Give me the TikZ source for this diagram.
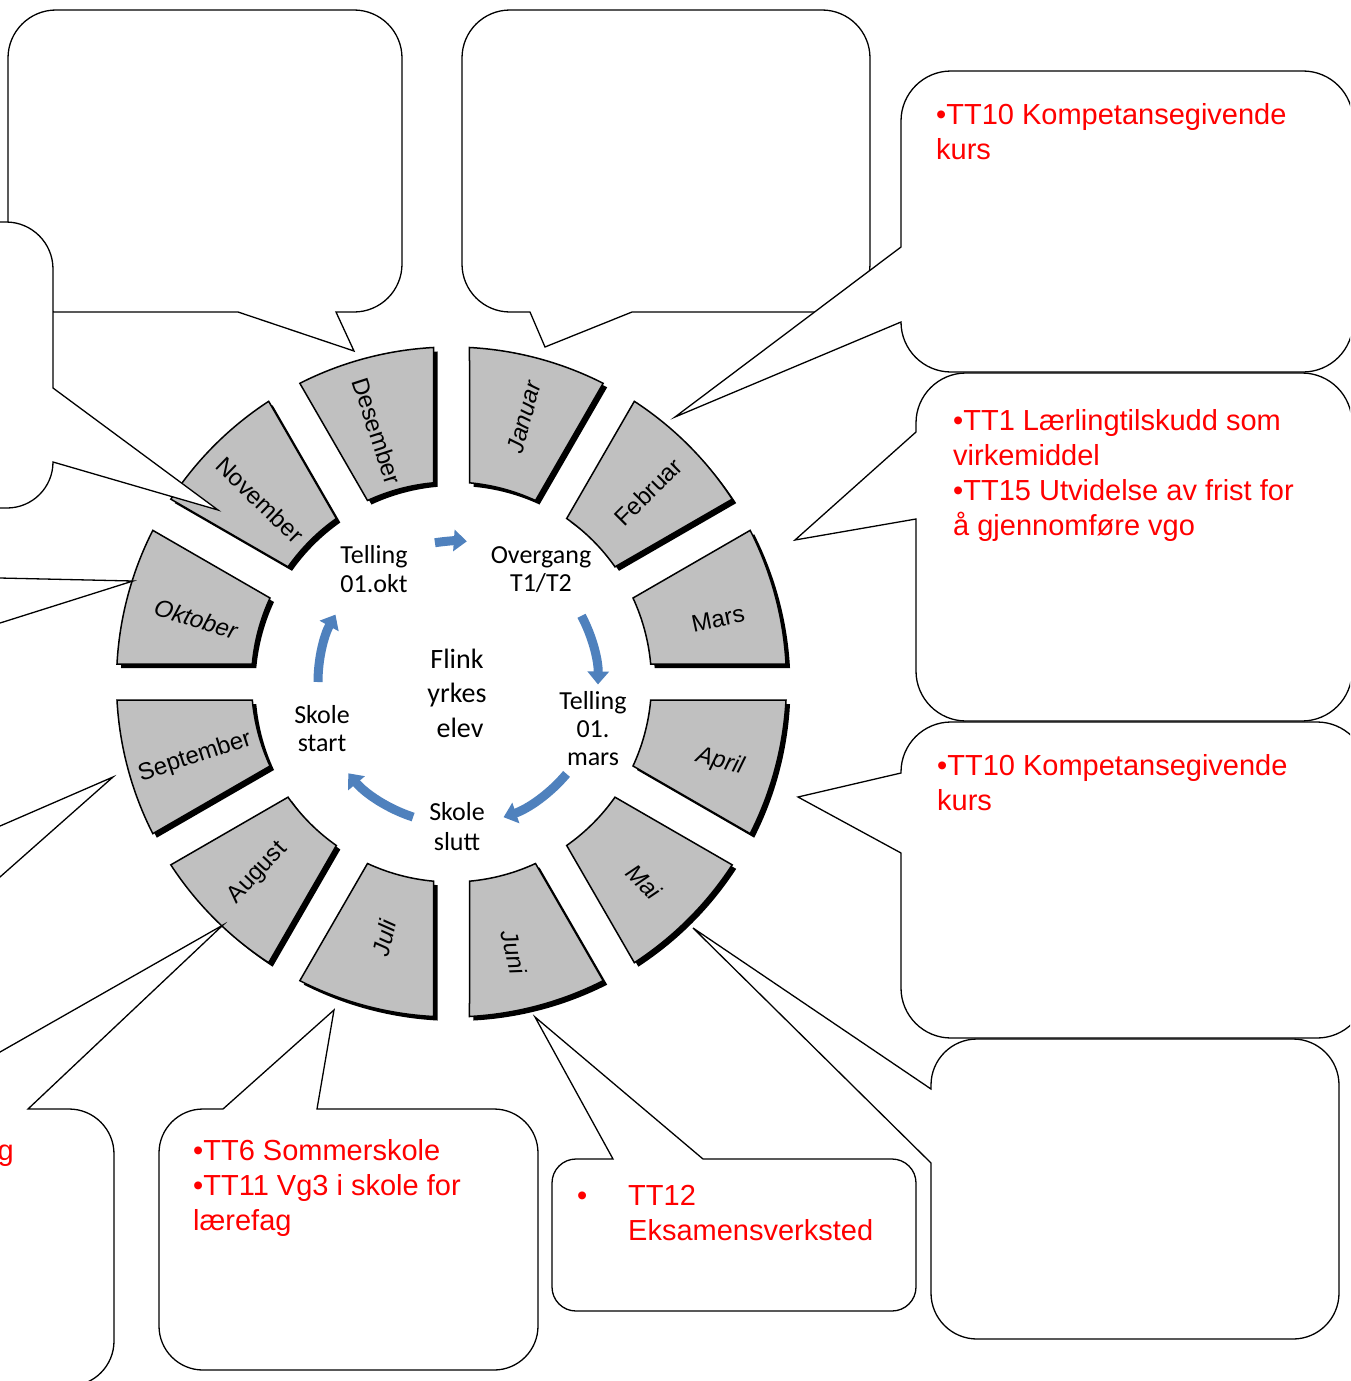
\documentclass[tikz,border=0pt]{standalone}
\usepackage{fontspec}
\setmainfont{Liberation Sans}
\newfontfamily\calfont{Carlito}
\usetikzlibrary{arrows.meta}
\definecolor{segfill}{HTML}{C0C0C0}
\definecolor{arrblue}{HTML}{4F81BD}
\definecolor{txtred}{HTML}{FF0000}
\tikzset{
  callout/.style={draw=black, fill=white, line width=1.3pt, line join=miter},
  segstyle/.style={draw=black, fill=segfill, line width=1.5pt},
  segshadow/.style={fill=black},
  cyclearrow/.style={draw=arrblue, line width=9pt, -{Triangle[width=21pt,length=13pt]}},
  month/.style={font=\fontsize{24}{28}\selectfont, inner sep=0pt},
  monthit/.style={font=\fontsize{24}{28}\selectfont\itshape, inner sep=0pt},
  innertext/.style={font=\calfont\fontsize{26}{30}\selectfont, inner sep=0pt, anchor=base},
  centertext/.style={font=\calfont\fontsize{28}{34}\selectfont, inner sep=0pt, anchor=base},
  redline/.style={font=\fontsize{29}{35}\selectfont, text=txtred, inner sep=0pt, anchor=base west},
}
\begin{document}
\begin{tikzpicture}[x=1pt, y=-1pt]
\useasboundingbox (0,0) rectangle (1350,1381);
\fill[white] (0,0) rectangle (1350,1381);
\clip (0,0) rectangle (1350,1381);

% ---------- ring of months ----------
\begin{scope}[shift={(451.5,682)}, y=1pt]
  \foreach \a/\b in {60/90,30/60,0/30,-30/0,-60/-30,-90/-60,-120/-90,-150/-120,180/210,150/180,120/150,90/120}{
    \fill[segshadow, shift={(4,-4)}] ({\a+5.164}:200) -- ({\a+3.08}:335)
      arc[start angle=\a+3.08, end angle=\b-3.08, radius=335]
      -- ({\b-5.164}:200)
      arc[start angle=\b-5.164, end angle=\a+5.164, radius=200] -- cycle;
    \path[segstyle] ({\a+5.164}:200) -- ({\a+3.08}:335)
      arc[start angle=\a+3.08, end angle=\b-3.08, radius=335]
      -- ({\b-5.164}:200)
      arc[start angle=\b-5.164, end angle=\a+5.164, radius=200] -- cycle;
  }
  \begin{scope}[shift={(5.5,0)}]
    \draw[cyclearrow] (99:141) arc[start angle=99, end angle=86, radius=141];
    \draw[cyclearrow] (28:141) arc[start angle=28, end angle=-1, radius=141];
    \draw[cyclearrow] (-40:143) arc[start angle=-40, end angle=-71, radius=143];
    \draw[cyclearrow] (-108:142) arc[start angle=-108, end angle=-140, radius=142];
    \draw[cyclearrow] (180:139) arc[start angle=180, end angle=151, radius=139];
  \end{scope}
\end{scope}

% month labels
\node[monthit, rotate=75]  (mjan) at (524,417) {Januar};
\node[month,   rotate=45]  (mfeb) at (648,492) {Februar};
\node[month,   rotate=12]  (mmar) at (718,619) {Mars};
\node[monthit, rotate=-15] (mapr) at (720,762) {April};
\node[monthit, rotate=-45] (mmai) at (644,882) {Mai};
\node[monthit, rotate=-77] (mjun) at (514,952) {Juni};
\node[monthit, rotate=77]  (mjul) at (384,938) {Juli};
\node[month,   rotate=47]  (maug) at (258,873) {August};
\node[month,   rotate=18]  (msep) at (195,757) {September};
\node[monthit, rotate=-17] (mokt) at (196,619) {Oktober};
\node[month,   rotate=-44] (mnov) at (260,500) {November};
\node[month,   rotate=-72] (mdes) at (377,431) {Desember};

% inner texts
\node[innertext] (tokA) at (374,563) {Telling};
\node[innertext] (tokB) at (374,592) {01.okt};
\node[innertext] (ovA) at (541,563) {Overgang};
\node[innertext] (ovB) at (541,591) {T1/T2};
\node[centertext] (flA) at (457,668) {Flink};
\node[centertext] (flB) at (457,702.5) {yrkes};
\node[centertext] (flC) at (460,737) {elev};
\node[innertext] (tmA) at (593,709.5) {Telling};
\node[innertext] (tmB) at (593,737) {01.};
\node[innertext] (tmC) at (593,765) {mars};
\node[innertext] (ssA) at (322,723) {Skole};
\node[innertext] (ssB) at (322,751.5) {start};
\node[innertext] (slA) at (457,820) {Skole};
\node[innertext] (slB) at (457,850) {slutt};

% ---------- callouts ----------
% Desember
\path[callout] (8,58) arc[start angle=180,end angle=270,radius=48] -- (354,10)
  arc[start angle=270,end angle=360,radius=48] -- (402,264)
  arc[start angle=0,end angle=90,radius=48] -- (336,312) -- (354,351) -- (238,312) -- (56,312)
  arc[start angle=90,end angle=180,radius=48] -- cycle;
% November
\path[callout] (-300,222) -- (6,222) arc[start angle=270,end angle=360,radius=47] -- (53,388)
  -- (218,510) -- (53,462) arc[start angle=0,end angle=90,radius=46] -- (-300,508) -- cycle;
% Oktober
\path[callout] (-300,450) -- (-5,450) -- (-5,577.9) -- (133,581) -- (-5,624.6) -- (-5,700) -- (-300,700) -- cycle;
% September
\path[callout] (-300,700) -- (-5,700) -- (-5,828.2) -- (113,777) -- (-5,881.4) -- (-5,1000) -- (-300,1000) -- cycle;
% August
\path[callout] (-300,1109) -- (-100,1109) -- (223,925) -- (28,1109) -- (69,1109)
  arc[start angle=270,end angle=360,radius=45] -- (114,1341)
  arc[start angle=0,end angle=90,radius=45] -- (-300,1386) -- cycle;
% Juli
\path[callout] (159,1153) arc[start angle=180,end angle=270,radius=44] -- (223,1109) -- (334,1010) -- (317,1109) -- (494,1109)
  arc[start angle=270,end angle=360,radius=44] -- (538,1326)
  arc[start angle=0,end angle=90,radius=44] -- (203,1370)
  arc[start angle=90,end angle=180,radius=44] -- cycle;
% Juni
\path[callout] (552,1183) arc[start angle=180,end angle=270,radius=24] -- (613,1159) -- (535,1017) -- (703,1159) -- (892,1159)
  arc[start angle=270,end angle=360,radius=24] -- (916,1287)
  arc[start angle=0,end angle=90,radius=24] -- (576,1311)
  arc[start angle=90,end angle=180,radius=24] -- cycle;
% Mai
\path[callout] (931,1085) arc[start angle=180,end angle=270,radius=46] -- (1293,1039)
  arc[start angle=270,end angle=360,radius=46] -- (1339,1293)
  arc[start angle=0,end angle=90,radius=46] -- (977,1339)
  arc[start angle=90,end angle=180,radius=46] -- (931,1163) -- (693,928) -- (931,1089) -- cycle;
% April
\path[callout] (901,772) arc[start angle=180,end angle=270,radius=50] -- (1317,722)
  arc[start angle=270,end angle=360,radius=50] -- (1367,988)
  arc[start angle=0,end angle=90,radius=50] -- (951,1038)
  arc[start angle=90,end angle=180,radius=50] -- (901,853) -- (798,797) -- (901,773) -- cycle;
% Mars
\path[callout] (916,423) arc[start angle=180,end angle=270,radius=50] -- (1302,373)
  arc[start angle=270,end angle=360,radius=50] -- (1352,671)
  arc[start angle=0,end angle=90,radius=50] -- (966,721)
  arc[start angle=90,end angle=180,radius=50] -- (916,519) -- (795,540) -- (916,432) -- cycle;
% Januar
\path[callout] (462,58) arc[start angle=180,end angle=270,radius=48] -- (822,10)
  arc[start angle=270,end angle=360,radius=48] -- (870,264)
  arc[start angle=0,end angle=90,radius=48] -- (632,312) -- (545,347) -- (530,312) -- (510,312)
  arc[start angle=90,end angle=180,radius=48] -- cycle;
% Februar
\path[callout] (901,121) arc[start angle=180,end angle=270,radius=50] -- (1303,71)
  arc[start angle=270,end angle=360,radius=50] -- (1353,322)
  arc[start angle=0,end angle=90,radius=50] -- (951,372)
  arc[start angle=90,end angle=180,radius=50] -- (675,417) -- (901,247) -- cycle;

% callout texts
\node[redline] (febA) at (936,124) {•TT10 Kompetansegivende};
\node[redline] (febB) at (936,159) {kurs};
\node[redline] (marA) at (953,430) {•TT1 Lærlingtilskudd som};
\node[redline] (marB) at (953,465) {virkemiddel};
\node[redline] (marC) at (953,500) {•TT15 Utvidelse av frist for};
\node[redline] (marD) at (953,535) {å gjennomføre vgo};
\node[redline] (aprA) at (937,775) {•TT10 Kompetansegivende};
\node[redline] (aprB) at (937,810) {kurs};
\node[redline] (julA) at (193,1160) {•TT6 Sommerskole};
\node[redline] (julB) at (193,1195) {•TT11 Vg3 i skole for};
\node[redline] (julC) at (193,1230) {lærefag};
\node[redline] (junBul) at (577,1205) {•};
\node[redline] (junA) at (628,1205) {TT12};
\node[redline] (junB) at (628,1240) {Eksamensverksted};
\node[redline, anchor=base east] (augG) at (14,1160) {g};
\end{tikzpicture}
\end{document}
